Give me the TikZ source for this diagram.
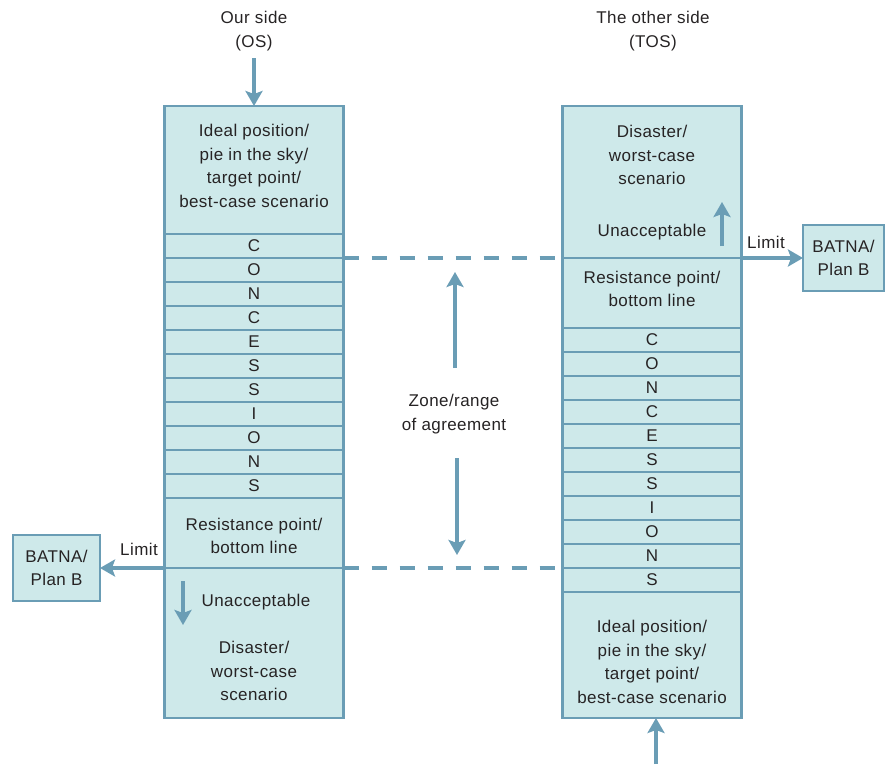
\documentclass[tikz,border=0pt]{standalone}
\usepackage{fontspec}
\setmainfont{Liberation Sans}[LetterSpace=2.5]
\usetikzlibrary{arrows.meta}
\definecolor{edge}{HTML}{6A9DB5}
\definecolor{panelfill}{HTML}{CEE9EA}
\definecolor{ink}{HTML}{262324}
\begin{document}
\begin{tikzpicture}[x=1pt,y=-1pt,
  every node/.style={outer sep=0pt},
  txt/.style={font=\fontsize{17}{23.5}\selectfont, text=ink, inner sep=0pt, align=center},
  panel/.style={draw=edge, fill=panelfill, line width=2.8pt, inner sep=0pt, minimum width=179pt},
  slot/.style={panel, minimum height=24pt, font=\fontsize{17}{20}\selectfont, text=ink},
  batna/.style={draw=edge, fill=panelfill, line width=2.8pt, inner sep=0pt, minimum height=66pt,
    align=center, font=\fontsize{17}{23.5}\selectfont, text=ink},
  arr/.style={draw=edge, line width=3.2pt, -{Stealth[width=17pt,length=15pt,inset=3pt]}},
  limitline/.style={draw=edge, line width=3.2pt, dash pattern=on 15pt off 13pt},
]
\useasboundingbox (0,0) rectangle (887,764);

% headers
\node[txt] (os)  at (254,31) {Our side\\(OS)};
\node[txt] (tos) at (653,31) {The other side\\(TOS)};

% our side column
\node[panel, minimum height=128pt] (ltop) at (254,170) {};
\foreach \ch [count=\i] in {C,O,N,C,E,S,S,I,O,N,S}
  \node[slot] (lrow\i) at (254,{222+24*\i}) {\ch};
\node[panel, minimum height=70pt]  (lres) at (254,533) {};
\node[panel, minimum height=150pt] (lbot) at (254,643) {};

% other side column
\node[panel, minimum height=152pt] (rtop) at (652,182) {};
\node[panel, minimum height=70pt]  (rres) at (652,293) {};
\foreach \ch [count=\i] in {C,O,N,C,E,S,S,I,O,N,S}
  \node[slot] (rrow\i) at (652,{316+24*\i}) {\ch};
\node[panel, minimum height=126pt] (rbot) at (652,655) {};

% texts inside the columns
\node[txt] (lideal)  at (254,166) {Ideal position/\\pie in the sky/\\target point/\\best-case scenario};
\node[txt] (lrestx)  at (254,536)   {Resistance point/\\bottom line};
\node[txt] (lunacc)  at (256,602)   {Unacceptable};
\node[txt] (ldisas)  at (254,671)   {Disaster/\\worst-case\\scenario};
\node[txt] (rdisas)  at (652,155)   {Disaster/\\worst-case\\scenario};
\node[txt] (runacc)  at (652,232)   {Unacceptable};
\node[txt] (rrestx)  at (652,289)   {Resistance point/\\bottom line};
\node[txt] (rideal)  at (652,662)   {Ideal position/\\pie in the sky/\\target point/\\best-case scenario};

% BATNA boxes and limit labels
\node[batna, minimum width=87pt] (lbatna) at (56.5,568) {BATNA/\\Plan B};
\node[batna, minimum width=81pt] (rbatna) at (843.5,258) {BATNA/\\Plan B};
\node[txt] (llimit) at (139,549) {Limit};
\node[txt] (rlimit) at (766,242) {Limit};

% zone of agreement
\node[txt] (zone) at (454,414) {Zone/range\\of agreement};

% entry arrows
\coordinate (osfoot) at (254,58);
\coordinate (tosfoot) at (656,764);
\draw[arr] (osfoot) -- (osfoot |- ltop.north);
\draw[arr] (tosfoot) -- (tosfoot |- rbot.south);

% unacceptable arrows
\coordinate (lua) at (183,581);
\coordinate (lub) at (183,625);
\coordinate (rua) at (722,246);
\coordinate (rub) at (722,202);
\draw[arr] (lua) -- (lub);
\draw[arr] (rua) -- (rub);

% limits
\draw[arr] (lres.south west) -- (lbatna.east);
\draw[arr] (rres.north east) -- (rbatna.west);
\draw[limitline] (lrow1.south east) -- (rres.north west);
\draw[limitline] (lres.south east) -- (rrow10.south west);

% zone arrows
\coordinate (zua) at (455,368);
\coordinate (zub) at (455,272);
\coordinate (zda) at (457,458);
\coordinate (zdb) at (457,555);
\draw[arr] (zua) -- (zub);
\draw[arr] (zda) -- (zdb);
\end{tikzpicture}
\end{document}
